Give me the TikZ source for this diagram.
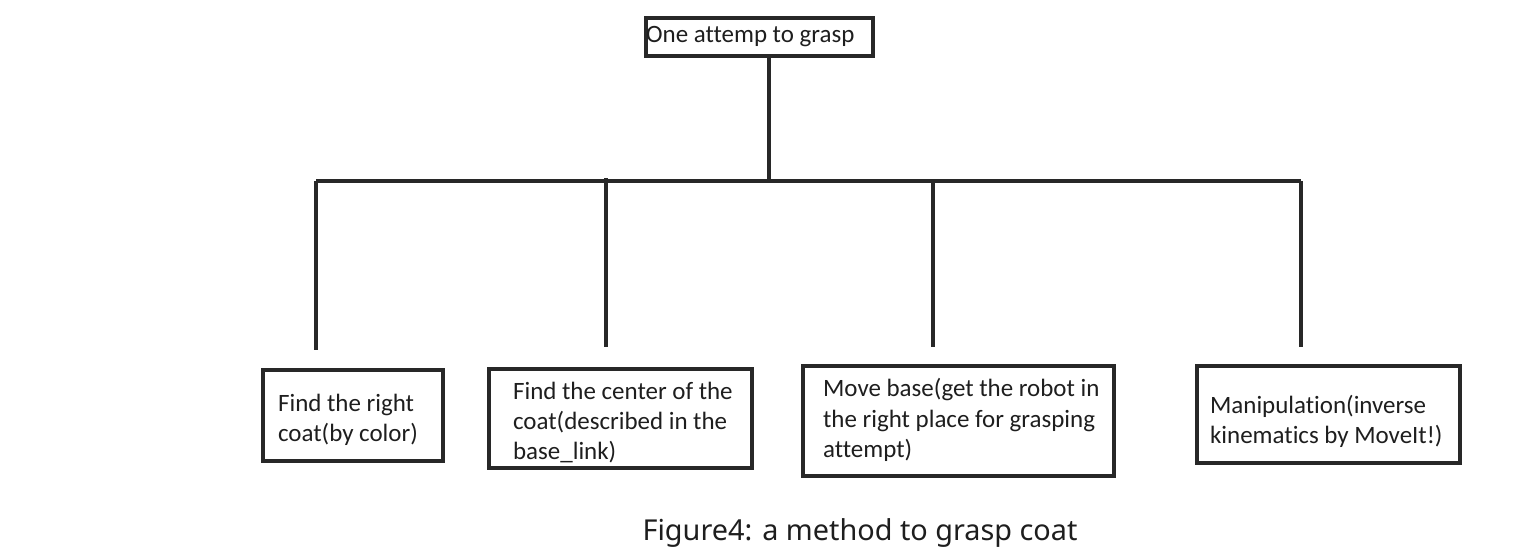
\documentclass[tikz,border=0pt]{standalone}
\usepackage{fontspec}
\setmainfont[Ligatures=NoCommon]{Carlito}
\newfontfamily\capfont{Noto Sans}
\usetikzlibrary{positioning}
\definecolor{boxline}{RGB}{40,40,40}
\definecolor{boxtext}{RGB}{30,30,30}

\begin{document}
\begin{tikzpicture}
    \useasboundingbox (0,0) rectangle (15.36,-5.53);
    \tikzset{
        stepbox/.style={draw=boxline, line width=0.9pt, inner sep=0pt},
        steptext/.style={inner sep=0pt, align=left, text=boxtext, font=\fontsize{7.1}{8.6}\selectfont},
        branch/.style={draw=boxline, line width=0.9pt}
    }

    % Top box
    \node[stepbox, minimum width=2.27cm, minimum height=0.38cm] (attempt) at (7.595,-0.37) {};
    \node[steptext, right=0.01cm of attempt.west] (attempttxt) {One attemp to grasp};

    % Sub-steps
    \node[stepbox, minimum width=1.80cm, minimum height=0.91cm] (findcoat) at (3.53,-4.155) {};
    \node[steptext, right=0.16cm of findcoat.west, yshift=-0.04cm] {Find the right\\coat(by color)};

    \node[stepbox, minimum width=2.63cm, minimum height=0.99cm] (center) at (6.205,-4.185) {};
    \node[steptext, right=0.25cm of center.west, yshift=-0.04cm] {Find the center of the\\coat(described in the\\base\_link)};

    \node[stepbox, minimum width=3.11cm, minimum height=1.10cm] (movebase) at (9.585,-4.21) {};
    \node[steptext, right=0.21cm of movebase.west, yshift=0.01cm] {Move base(get the robot in\\the right place for grasping\\attempt)};

    \node[stepbox, minimum width=2.63cm, minimum height=0.97cm] (manip) at (13.285,-4.145) {};
    \node[steptext, right=0.14cm of manip.west, yshift=-0.07cm] {Manipulation(inverse\\kinematics by MoveIt!)};

    % Tree lines
    \coordinate (hub) at (7.69,-1.81);
    \coordinate (left) at (3.16,-1.81);
    \coordinate (right) at (13.01,-1.81);
    \coordinate (d1) at (3.16,-3.50);
    \coordinate (d2) at (6.06,-3.47);
    \coordinate (d3) at (9.33,-3.47);
    \coordinate (d4) at (13.01,-3.47);
    \draw[branch] (attempt.south -| hub) -- (hub);
    \draw[branch] (left) -- (right);
    \draw[branch] (left) -- (d1);
    \draw[branch] (d2 |- 0,-1.78) -- (d2);
    \draw[branch] (d3 |- hub) -- (d3);
    \draw[branch] (right) -- (d4);

    % Caption
    \node[text=boxtext, font=\capfont\fontsize{8.2}{10}\selectfont] (caption) at (8.60,-5.33) {Figure4: a method to grasp coat};
\end{tikzpicture}
\end{document}
